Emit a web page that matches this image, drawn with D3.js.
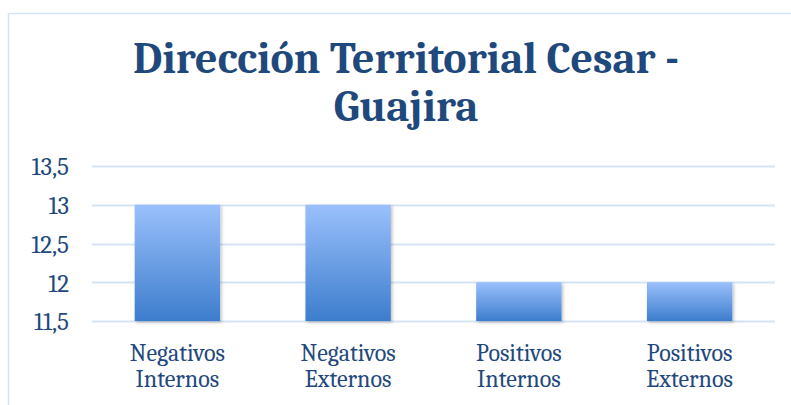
<!DOCTYPE html>
<html>
<head>
<meta charset="utf-8">
<script src="https://cdn.jsdelivr.net/npm/d3@7"></script>
<style>
  html, body { margin: 0; padding: 0; background: #fff; }
  svg { display: block; }
</style>
</head>
<body>
<div id="host"></div>
<script>
const categories = [['Negativos', 'Internos'], ['Negativos', 'Externos'], ['Positivos', 'Internos'], ['Positivos', 'Externos']];
const values = [13, 13, 12, 12];
const yTicks = [11.5, 12, 12.5, 13, 13.5];
const titleLines = ['Dirección Territorial Cesar -', 'Guajira'];

const width = 791;
const height = 405;
const margin = { top: 166, right: 16, bottom: 84, left: 92 };
const innerW = width - margin.left - margin.right;
const innerH = height - margin.top - margin.bottom;
const textColor = '#1f497d';
const serif = 'Cambria, "Liberation Serif", "DejaVu Serif", serif';

const svg = d3.select('#host').append('svg')
  .attr('width', width)
  .attr('height', height);

const defs = svg.append('defs');
const grad = defs.append('linearGradient')
  .attr('id', 'barGrad')
  .attr('x1', 0).attr('y1', 0).attr('x2', 0).attr('y2', 1);
grad.append('stop').attr('offset', '0%').attr('stop-color', '#9ac0fc');
grad.append('stop').attr('offset', '100%').attr('stop-color', '#3d7dcd');

const shadow = defs.append('filter').attr('id', 'shadow')
  .attr('x', '-10%').attr('y', '-10%').attr('width', '130%').attr('height', '130%');
shadow.append('feDropShadow')
  .attr('dx', 1.5).attr('dy', 1.5).attr('stdDeviation', 1.5)
  .attr('flood-color', '#000').attr('flood-opacity', 0.25);

// outer chart border (left and top only visible)
svg.append('rect')
  .attr('x', 8.5).attr('y', 13.5)
  .attr('width', 800).attr('height', 420)
  .attr('fill', 'none')
  .attr('stroke', '#d6e3f4')
  .attr('stroke-width', 1.5);

// title
const title = svg.append('text')
  .attr('text-anchor', 'middle')
  .attr('fill', textColor)
  .style('font-family', serif)
  .style('font-weight', 'bold')
  .style('font-size', '37px');
title.selectAll('tspan')
  .data(titleLines)
  .join('tspan')
  .attr('x', 406)
  .attr('y', (d, i) => 73 + i * 48)
  .text(d => d);
// fit first line to the measured width of the original
const first = title.select('tspan').node();
const w = first.getComputedTextLength();
if (w > 0) {
  const fs = 37 * 546 / w;
  title.style('font-size', fs + 'px');
}

const g = svg.append('g').attr('transform', `translate(${margin.left},${margin.top})`);

const x = d3.scaleBand().domain(d3.range(categories.length)).range([0, innerW]).paddingInner(0.5).paddingOuter(0.25);
const y = d3.scaleLinear().domain([11.5, 13.5]).range([innerH, 0]);

// grid
g.selectAll('line.grid')
  .data(yTicks)
  .join('line')
  .attr('class', 'grid')
  .attr('x1', 0).attr('x2', innerW)
  .attr('y1', d => Math.round(y(d)) + 0.5)
  .attr('y2', d => Math.round(y(d)) + 0.5)
  .attr('stroke', '#d6e3f4')
  .attr('stroke-width', 2);

// y axis labels
const fmt = v => String(v).replace('.', ',');
const yAxis = g.append('g')
  .call(d3.axisLeft(y).tickValues(yTicks).tickSize(0).tickPadding(23).tickFormat(fmt));
yAxis.select('.domain').remove();
yAxis.selectAll('text')
  .attr('fill', textColor)
  .attr('dy', '0.35em')
  .style('font-family', serif)
  .style('font-size', '25px');

// bars
g.selectAll('rect.bar')
  .data(values)
  .join('rect')
  .attr('class', 'bar')
  .attr('x', (d, i) => x(i))
  .attr('y', d => y(d))
  .attr('width', x.bandwidth())
  .attr('height', d => innerH - y(d))
  .attr('fill', 'url(#barGrad)')
  .attr('filter', 'url(#shadow)');

// category labels
const xl = g.selectAll('text.cat')
  .data(categories)
  .join('text')
  .attr('class', 'cat')
  .attr('text-anchor', 'middle')
  .attr('fill', textColor)
  .style('font-family', serif)
  .style('font-size', '24px');
xl.selectAll('tspan')
  .data(d => d)
  .join('tspan')
  .attr('x', function () { const i = categories.indexOf(d3.select(this.parentNode).datum()); return x(i) + x.bandwidth() / 2; })
  .attr('y', (d, j) => innerH + 40 + j * 26)
  .text(d => d);
</script>
</body>
</html>
